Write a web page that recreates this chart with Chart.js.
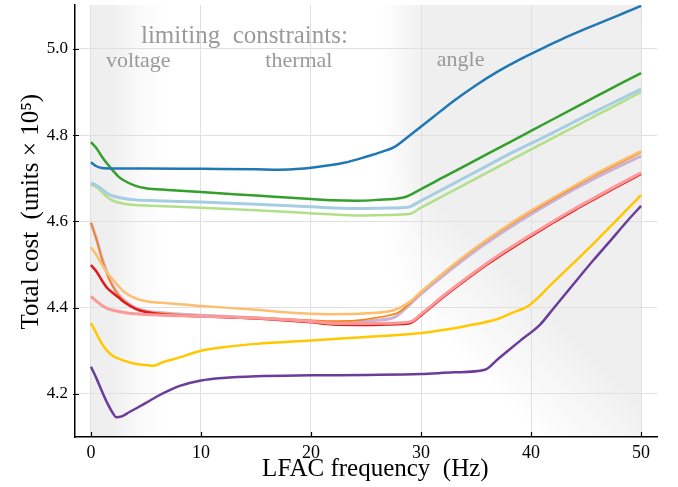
<!DOCTYPE html>
<html><head><meta charset="utf-8">
<script src="https://cdn.jsdelivr.net/npm/chart.js@4.4.1/dist/chart.umd.min.js"></script>
<style>html,body{margin:0;padding:0;background:#fff}#wrap{width:678px;height:487px}</style>
</head><body><div id="wrap"><canvas id="c" width="678" height="487"></canvas></div>
<script>
// ---- data (frequency in Hz, total cost in units x 10^5) ----
const xTicks = [0, 10, 20, 30, 40, 50];
const yTicks = [4.2, 4.4, 4.6, 4.8, 5.0];

const darkBlue = [[0,4.737],[0.5,4.728],[1,4.724],[2,4.723],[5,4.723],[10,4.722],[15,4.721],[17,4.720],[19,4.722],[21,4.728],[23,4.736],[25,4.750],[26.5,4.762],[27.6,4.773],[29,4.800],[31,4.840],[33,4.880],[35,4.916],[37,4.948],[39,4.976],[41,5.001],[43,5.025],[45,5.047],[47,5.068],[48.5,5.084],[50,5.100]];
const darkGreen = [[0,4.784],[0.5,4.770],[1,4.750],[1.5,4.733],[2,4.718],[2.5,4.704],[3,4.695],[4,4.683],[5,4.677],[7,4.673],[10,4.668],[15,4.660],[20,4.652],[22,4.649],[24,4.648],[26,4.650],[28.5,4.656],[30,4.675],[32,4.702],[34,4.729],[36,4.756],[38,4.783],[40,4.810],[42,4.837],[44,4.864],[46,4.891],[48,4.918],[50,4.944]];
const lightBlue = [[0,4.689],[0.5,4.684],[1,4.675],[1.5,4.665],[2,4.659],[3,4.653],[4,4.650],[6,4.648],[10,4.645],[15,4.640],[20,4.634],[24,4.630],[27,4.631],[28.8,4.633],[30,4.648],[32,4.675],[34,4.702],[36,4.729],[38,4.756],[40,4.781],[42,4.806],[44,4.832],[46,4.857],[48,4.882],[50,4.907]];
const lightGreen = [[0,4.685],[0.5,4.680],[1,4.668],[1.5,4.656],[2,4.648],[3,4.641],[4,4.638],[6,4.636],[10,4.632],[15,4.626],[20,4.619],[24,4.614],[27,4.615],[28.9,4.617],[30,4.632],[32,4.659],[34,4.686],[36,4.713],[38,4.740],[40,4.767],[42,4.794],[44,4.820],[46,4.847],[48,4.873],[50,4.900]];
const lavender = [[0,4.597],[0.5,4.560],[1,4.515],[1.5,4.478],[2,4.450],[2.5,4.430],[3,4.417],[4,4.400],[5,4.392],[7,4.387],[10,4.382],[15,4.376],[20,4.369],[22,4.366],[24,4.367],[26,4.371],[27.6,4.378],[29,4.408],[30,4.432],[32,4.474],[34,4.514],[36,4.551],[38,4.585],[40,4.617],[42,4.647],[44,4.676],[46,4.703],[48,4.728],[50,4.752]];
const orange = [[0,4.597],[0.5,4.558],[1,4.512],[1.5,4.475],[2,4.448],[2.5,4.429],[3,4.416],[4,4.399],[5,4.391],[7,4.386],[10,4.381],[15,4.377],[20,4.371],[22,4.369],[24,4.370],[26,4.377],[28,4.390],[29,4.411],[30,4.435],[32,4.478],[34,4.519],[36,4.556],[38,4.590],[40,4.622],[42,4.652],[44,4.681],[46,4.709],[48,4.735],[50,4.760]];
const lightOrange = [[0,4.540],[0.5,4.522],[1,4.500],[1.5,4.480],[2,4.465],[2.5,4.450],[3,4.437],[4,4.422],[5,4.415],[7,4.410],[10,4.404],[15,4.395],[19,4.387],[22,4.385],[25,4.387],[27.5,4.394],[29,4.414],[30,4.437],[32,4.480],[34,4.521],[36,4.558],[38,4.593],[40,4.625],[42,4.655],[44,4.684],[46,4.712],[48,4.738],[50,4.763]];
const red = [[0,4.499],[0.5,4.484],[1,4.463],[1.5,4.445],[2,4.434],[2.5,4.424],[3,4.413],[4,4.398],[5,4.390],[7,4.383],[10,4.380],[15,4.375],[20,4.366],[22,4.361],[25,4.360],[27,4.361],[29,4.364],[30,4.382],[32,4.424],[34,4.463],[36,4.500],[38,4.534],[40,4.566],[42,4.597],[44,4.627],[46,4.655],[48,4.683],[50,4.710]];
const pink = [[0,4.426],[0.5,4.415],[1,4.405],[1.5,4.398],[2,4.394],[3,4.389],[4,4.386],[6,4.383],[10,4.380],[15,4.376],[20,4.368],[22,4.364],[25,4.363],[27,4.364],[29,4.367],[30,4.385],[32,4.427],[34,4.466],[36,4.503],[38,4.537],[40,4.569],[42,4.600],[44,4.630],[46,4.658],[48,4.686],[50,4.713]];
const yellow = [[0,4.364],[0.5,4.340],[1,4.316],[1.5,4.299],[2,4.288],[3,4.277],[4,4.270],[5,4.267],[5.7,4.265],[6.5,4.273],[8,4.284],[10,4.300],[12,4.308],[15,4.316],[20,4.324],[25,4.332],[30,4.341],[33,4.352],[35,4.362],[36.9,4.373],[38.3,4.388],[39.75,4.404],[42,4.458],[44,4.507],[45.7,4.549],[47,4.583],[48,4.609],[50,4.661]];
const purple = [[0,4.263],[0.5,4.236],[1,4.206],[1.5,4.178],[2,4.155],[2.3,4.146],[2.8,4.148],[3.5,4.158],[4,4.165],[5,4.179],[6,4.194],[7,4.207],[8,4.218],[10,4.231],[12,4.237],[15,4.241],[20,4.243],[25,4.244],[30,4.246],[33,4.250],[35.8,4.256],[37,4.281],[39,4.323],[40.8,4.360],[42,4.397],[44,4.459],[45.7,4.511],[47,4.549],[48.85,4.604],[50,4.636]];

const annotations = [
  {text: 'limiting  constraints:', x: 13.95, y: 5.014, size: 25},
  {text: 'voltage', x: 4.3, y: 4.958, size: 22},
  {text: 'thermal', x: 18.9, y: 4.958, size: 22},
  {text: 'angle', x: 33.6, y: 4.960, size: 22}
];

// ---- styling ----
const serif = "'Liberation Serif', 'Times New Roman', serif";
const series = [
  {d: darkBlue, c: '#1f78b4', w: 2.5},
  {d: lightBlue, c: '#a6cee3', w: 3},
  {d: lightGreen, c: '#b2df8a', w: 2.5},
  {d: darkGreen, c: '#33a02c', w: 2.5},
  {d: pink, c: '#fb9a99', w: 3},
  {d: red, c: '#e31a1c', w: 2.5},
  {d: lightOrange, c: '#fdbf6f', w: 2.5},
  {d: orange, c: '#ff7f00', w: 1.5},
  {d: lavender, c: '#cab2d6', w: 3.2},
  {d: yellow, c: '#ffc800', w: 2.5},
  {d: purple, c: '#6a3d9a', w: 2.5}
];

const shadePlugin = {
  id: 'shade',
  beforeDraw(chart) {
    const {ctx, chartArea: a, scales: {x}} = chart;
    ctx.save();
    ctx.fillStyle = '#fff';
    ctx.fillRect(0, 0, chart.width, chart.height);
    const g = '#efefef';
    // left (voltage) region
    const l0 = x.getPixelForValue(0), l1 = x.getPixelForValue(2), l2 = x.getPixelForValue(8);
    let gr = ctx.createLinearGradient(l0, 0, l2, 0);
    gr.addColorStop(0, g);
    gr.addColorStop((l1 - l0) / (l2 - l0), g);
    gr.addColorStop(1, 'rgba(255,255,255,0)');
    ctx.fillStyle = gr;
    ctx.fillRect(l0, a.top, l2 - l0, a.bottom - a.top);
    // right (angle) region
    const r0 = x.getPixelForValue(26.3), r1 = x.getPixelForValue(30.5), r2 = x.getPixelForValue(50);
    gr = ctx.createLinearGradient(r0, 0, r1, 0);
    gr.addColorStop(0, 'rgba(239,239,239,0)');
    gr.addColorStop(1, g);
    ctx.fillStyle = gr;
    ctx.fillRect(r0, a.top, r2 - r0, a.bottom - a.top);
    // diagonal fade towards lower-left
    gr = ctx.createLinearGradient(450, 350, 520, 280);
    gr.addColorStop(0, 'rgba(255,255,255,1)');
    gr.addColorStop(1, 'rgba(255,255,255,0)');
    ctx.fillStyle = gr;
    ctx.fillRect(r0, a.top, r2 - r0, a.bottom - a.top);
    ctx.restore();
  },
  afterDraw(chart) {
    const {ctx, chartArea: a, scales: {x, y}} = chart;
    ctx.save();
    ctx.strokeStyle = '#000';
    ctx.lineWidth = 1.2;
    ctx.beginPath();
    xTicks.forEach(v => { const p = Math.round(x.getPixelForValue(v)) + 0.5; ctx.moveTo(p, a.bottom); ctx.lineTo(p, a.bottom - 5); });
    yTicks.forEach(v => { const p = Math.round(y.getPixelForValue(v)) + 0.5; ctx.moveTo(a.left - 2, p); ctx.lineTo(a.left + 4, p); });
    ctx.stroke();
    ctx.fillStyle = '#9a9a9a';
    ctx.textAlign = 'center';
    ctx.textBaseline = 'alphabetic';
    annotations.forEach(t => {
      ctx.font = t.size + 'px ' + serif;
      ctx.fillText(t.text, x.getPixelForValue(t.x), y.getPixelForValue(t.y));
    });
    ctx.restore();
  }
};

function noPad(s) { s.paddingTop = 0; s.paddingBottom = 0; s.paddingLeft = 0; s.paddingRight = 0; }

new Chart(document.getElementById('c'), {
  type: 'line',
  data: {
    datasets: series.map(s => ({
      data: s.d.map(p => ({x: p[0], y: p[1]})),
      borderColor: s.c, borderWidth: s.w, pointRadius: 0,
      cubicInterpolationMode: 'monotone', fill: false
    }))
  },
  options: {
    responsive: false, animation: false, devicePixelRatio: 1,
    layout: {padding: {left: 16, top: 5, right: 21, bottom: 0}},
    plugins: {legend: {display: false}, tooltip: {enabled: false}},
    scales: {
      x: {
        type: 'linear', min: -1.45, max: 51.45,
        afterBuildTicks: s => { s.ticks = xTicks.map(v => ({value: v})); },
        afterFit: s => { s.height = 50; noPad(s); },
        grid: {color: '#e0e0e0', drawTicks: false},
        border: {display: true, color: '#000', width: 1.5},
        ticks: {font: {family: serif, size: 18}, color: '#000', padding: 5, maxRotation: 0, autoSkip: false},
        title: {display: true, text: '   LFAC frequency  (Hz)', font: {family: serif, size: 25}, color: '#000', padding: {top: 0, bottom: 3}}
      },
      y: {
        type: 'linear', min: 4.1, max: 5.102,
        afterBuildTicks: s => { s.ticks = yTicks.map(v => ({value: v})); },
        afterFit: s => { s.width = 59; noPad(s); },
        grid: {color: '#e0e0e0', drawTicks: false},
        border: {display: true, color: '#000', width: 1.5},
        ticks: {font: {family: serif, size: 17}, color: '#000', padding: 7, callback: v => v.toFixed(1)},
        title: {display: true, text: '   Total cost  (units × 10⁵)', font: {family: serif, size: 25}, color: '#000', padding: {top: 0, bottom: 0}}
      }
    }
  },
  plugins: [shadePlugin]
});
</script>
</body></html>
